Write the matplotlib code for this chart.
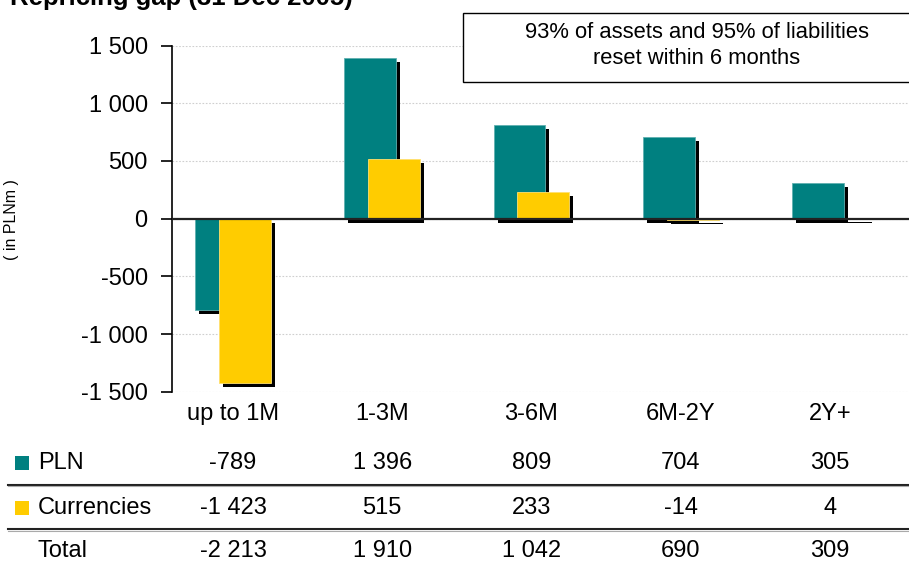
import matplotlib
matplotlib.use("Agg")
import matplotlib.pyplot as plt
import matplotlib.transforms as mtransforms
from matplotlib.patches import Rectangle
from matplotlib.lines import Line2D
from matplotlib.ticker import FuncFormatter, FixedLocator

plt.rcParams["font.family"] = ["Liberation Sans", "DejaVu Sans"]

# Repricing gap by bucket, PLN million
categories = ["up to 1M", "1-3M", "3-6M", "6M-2Y", "2Y+"]
pln = [-789, 1396, 809, 704, 305]
currencies = [-1423, 515, 233, -14, 4]
total = [-2213, 1910, 1042, 690, 309]
yticks = [-1500, -1000, -500, 0, 500, 1000, 1500]

TEAL = "#008080"
YELLOW = "#FFCC00"
W, H = 909, 562
FS = 17


def fmt_num(v):
    s = f"{abs(int(v)):,}".replace(",", " ")
    return ("-" if v < 0 else "") + s


fig = plt.figure(figsize=(W / 100, H / 100), dpi=100)
ax = fig.add_axes([172 / W, 1 - 391.7 / H, (W - 172) / W, (391.7 - 45.6) / H])

x = list(range(len(categories)))
bw = 0.348
off = 0.08
shadow = ax.transData + mtransforms.ScaledTranslation(4 / 100, -4 / 100, fig.dpi_scale_trans)

xp = [i - off for i in x]
xc = [i + off for i in x]
ax.bar(xp, pln, width=bw, color="black", transform=shadow, zorder=2)
ax.bar(xp, pln, width=bw, color=TEAL, edgecolor="#5fb0b0", linewidth=0.6, zorder=3)
ax.bar(xc, currencies, width=bw, color="black", transform=shadow, zorder=4)
ax.bar(xc, currencies, width=bw, color=YELLOW, edgecolor="#ffe070", linewidth=0.6, zorder=5)

ax.set_xlim(-0.409, 4.53)
ax.set_ylim(-1500, 1500)
ax.axhline(0, color="#222222", linewidth=1.6, zorder=6)

ax.yaxis.set_major_locator(FixedLocator(yticks))
ax.yaxis.set_major_formatter(FuncFormatter(lambda v, p: fmt_num(v)))
ax.grid(axis="y", color="#cfcfcf", linestyle=(0, (1.5, 1.5)), linewidth=0.8, zorder=0)
ax.set_axisbelow(True)

ax.set_xticks(x)
ax.set_xticklabels(categories)
ax.tick_params(axis="x", length=0, pad=8, labelsize=FS)
ax.tick_params(axis="y", length=8, width=1.2, direction="out", pad=9.5, labelsize=FS)

for side in ("top", "right", "bottom"):
    ax.spines[side].set_visible(False)
ax.spines["left"].set_linewidth(1.2)

fig.text(12 / W, 1 - 220 / H, "( in PLNm )", rotation=90, fontsize=11.5,
         ha="center", va="center")

# Heading (partly above the canvas edge)
fig.text(10 / W, 1 - 5 / H, "Repricing gap (31 Dec 2005)", fontsize=18.5,
         fontweight="bold", ha="left", va="baseline")

# Note box
fig.patches.append(Rectangle((463 / W, 1 - 82 / H), (W + 10 - 463) / W, (82 - 13) / H,
                             transform=fig.transFigure, facecolor="white",
                             edgecolor="black", linewidth=1.0, zorder=10, clip_on=False))
fig.text(697 / W, 1 - 32 / H, "93% of assets and 95% of liabilities", fontsize=15.8,
         ha="center", va="center", zorder=11)
fig.text(697 / W, 1 - 58 / H, "reset within 6 months", fontsize=15.8,
         ha="center", va="center", zorder=11)

# Data table below the chart
blend = mtransforms.blended_transform_factory(ax.transData, fig.transFigure)
rows = [("PLN", pln, TEAL, 463), ("Currencies", currencies, YELLOW, 508), ("Total", total, None, 551)]
for label, vals, col, ypx in rows:
    yf = 1 - ypx / H
    if col is not None:
        fig.patches.append(Rectangle((15 / W, 1 - (ypx + 7) / H), 14 / W, 14 / H,
                                     transform=fig.transFigure, facecolor=col,
                                     edgecolor="none"))
    fig.text(38 / W, yf, label, fontsize=FS, ha="left", va="center")
    for i, v in enumerate(vals):
        ax.text(i, yf, fmt_num(v), transform=blend, fontsize=FS,
                ha="center", va="center", clip_on=False)

for ypx in (484.5, 529):
    fig.add_artist(Line2D([8 / W, 1.0], [1 - ypx / H] * 2, transform=fig.transFigure,
                          color="#222222", linewidth=1.5))
    fig.add_artist(Line2D([8 / W, 1.0], [1 - (ypx + 1.8) / H] * 2, transform=fig.transFigure,
                          color="#aaaaaa", linewidth=0.8))

fig.savefig("out.png", dpi=100)
